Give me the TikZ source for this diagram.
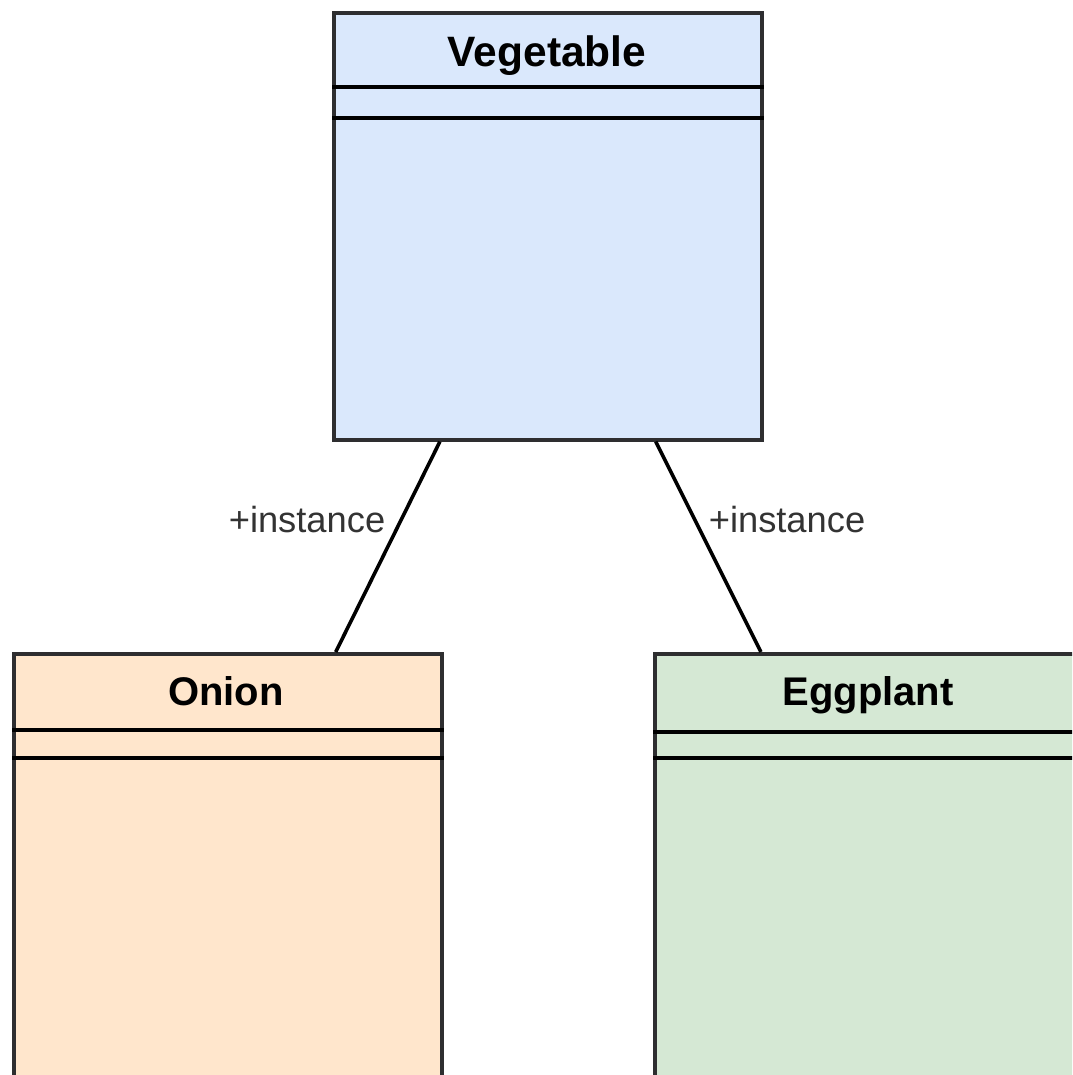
\documentclass[tikz,border=0pt]{standalone}
\usepackage{fontspec}
\setmainfont{Liberation Sans}
\usetikzlibrary{calc}
\definecolor{vegfill}{HTML}{DAE8FC}
\definecolor{onifill}{HTML}{FFE6CC}
\definecolor{eggfill}{HTML}{D5E8D4}
\definecolor{boxline}{HTML}{2E2E30}
\definecolor{labtext}{HTML}{333333}
\tikzset{
  classbox/.style={draw=boxline, line width=3.6pt, minimum width=428pt, minimum height=428pt, inner sep=0pt, anchor=north west},
  sepline/.style={draw=black, line width=3.6pt},
  titletext/.style={font=\fontsize{40}{48}\selectfont\bfseries, text=black, anchor=base, inner sep=0pt},
  assoc/.style={draw=black, line width=3.6pt},
  asslabel/.style={font=\fontsize{36.3}{43}\selectfont, text=labtext, anchor=base, inner sep=0pt}
}
\begin{document}
\begin{tikzpicture}[x=1pt,y=-1pt]
\useasboundingbox (0,0) rectangle (1072,1075);
\clip (0,0) rectangle (1072,1075);
% boxes
\node[classbox, fill=vegfill, minimum height=427pt] (veg) at (332,11) {};
\node[classbox, fill=onifill] (oni) at (12,652) {};
\node[classbox, fill=eggfill] (egg) at (653,652) {};
% separators
\draw[sepline] (veg.west |- 0,87) -- (veg.east |- 0,87);
\draw[sepline] (veg.west |- 0,118) -- (veg.east |- 0,118);
\draw[sepline] (oni.west |- 0,730) -- (oni.east |- 0,730);
\draw[sepline] (oni.west |- 0,758) -- (oni.east |- 0,758);
\draw[sepline] (egg.west |- 0,732) -- (egg.east |- 0,732);
\draw[sepline] (egg.west |- 0,758) -- (egg.east |- 0,758);
% titles
\node[titletext, font=\fontsize{42.5}{50}\selectfont\bfseries] (vegt) at (547,67) {Vegetable};
\node[titletext] (onit) at (226,705) {Onion};
\node[titletext] (eggt) at (868,705) {Eggplant};
% connectors
\coordinate (v1) at ($(veg.south west)!0.25!(veg.south east)$);
\coordinate (v2) at ($(veg.south west)!0.75!(veg.south east)$);
\coordinate (o1) at ($(oni.north west)!0.75!(oni.north east)$);
\coordinate (e1) at ($(egg.north west)!0.25!(egg.north east)$);
\draw[assoc] (v1) -- (o1);
\draw[assoc] (v2) -- (e1);
% labels
\node[asslabel] (l1) at (307,532) {+instance};
\node[asslabel] (l2) at (787,532) {+instance};
\end{tikzpicture}
\end{document}
